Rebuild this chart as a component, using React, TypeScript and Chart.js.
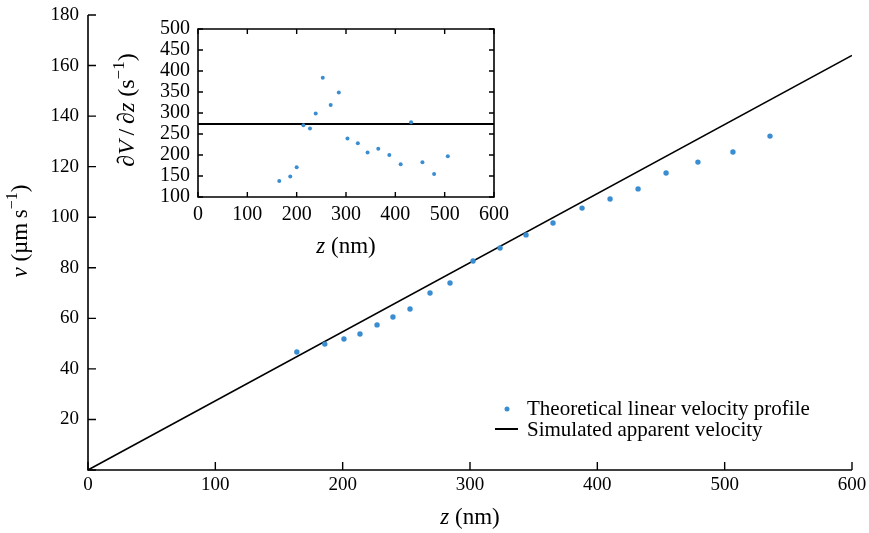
import { useEffect, useRef } from 'react';
import { Chart, registerables } from 'chart.js';
Chart.register(...registerables);

// Main chart data
const zData = [164, 186, 201, 213.6, 227, 239.5, 252.9, 268.6, 284.3, 302.4, 323.6, 344, 365.2, 388, 410, 432, 454, 479, 506.5, 535.6];
const vData = [46.7, 49.8, 51.8, 53.8, 57.4, 60.5, 63.7, 70, 74, 82.7, 87.8, 93, 97.7, 103.6, 107.2, 111.2, 117.5, 121.8, 125.8, 132.1];
const simZ = [0, 600];
const simV = [0, 164];

// Inset data
const dzData = [164.7, 187, 200, 213.6, 227, 238.6, 252.9, 269, 285.4, 303, 324, 343.7, 365.4, 387.8, 410.8, 431.9, 454.9, 478.6, 506.4];
const dvdzData = [138, 149, 171, 271, 263, 299, 384, 319, 349, 239, 228, 206, 215, 200, 178, 278, 183, 155, 197];
const insetLineZ = [0, 600];
const insetLineV = [274, 274];

const legendLabels = ['Theoretical linear velocity profile', 'Simulated apparent velocity'];

const BLUE = '#3a8dd0';
const FONT = '"Liberation Serif", "DejaVu Serif", serif';

type Part = { t: string; it?: boolean; sup?: boolean };

function drawRich(ctx: CanvasRenderingContext2D, parts: Part[], cx: number, cy: number, size: number, rot: boolean) {
  ctx.save();
  ctx.translate(cx, cy);
  if (rot) ctx.rotate(-Math.PI / 2);
  const fontOf = (p: Part) => `${p.it ? 'italic ' : ''}${p.sup ? Math.round(size * 0.7) : size}px ${FONT}`;
  let total = 0;
  const widths = parts.map((p) => {
    ctx.font = fontOf(p);
    const w = ctx.measureText(p.t).width;
    total += w;
    return w;
  });
  let x = -total / 2;
  ctx.textBaseline = 'middle';
  ctx.textAlign = 'left';
  ctx.fillStyle = '#000';
  parts.forEach((p, i) => {
    ctx.font = fontOf(p);
    ctx.fillText(p.t, x, p.sup ? -size * 0.35 : 0);
    x += widths[i];
  });
  ctx.restore();
}

function tickPlugin(len: number, box: boolean) {
  return {
    id: 'inTicks',
    afterDraw(chart: any) {
      const { ctx, chartArea: a, scales } = chart;
      const xs = scales.x;
      const ys = scales.y;
      ctx.save();
      ctx.strokeStyle = '#000';
      ctx.lineWidth = 1.4;
      ctx.beginPath();
      xs.ticks.forEach((t: any) => {
        const px = xs.getPixelForValue(t.value);
        ctx.moveTo(px, a.bottom);
        ctx.lineTo(px, a.bottom - len);
        if (box) {
          ctx.moveTo(px, a.top);
          ctx.lineTo(px, a.top + len);
        }
      });
      ys.ticks.forEach((t: any) => {
        const py = ys.getPixelForValue(t.value);
        ctx.moveTo(a.left, py);
        ctx.lineTo(a.left + len, py);
        if (box) {
          ctx.moveTo(a.right, py);
          ctx.lineTo(a.right - len, py);
        }
      });
      ctx.stroke();
      ctx.lineWidth = 1.6;
      ctx.beginPath();
      if (box) {
        ctx.rect(a.left, a.top, a.right - a.left, a.bottom - a.top);
      } else {
        ctx.moveTo(a.left, a.top);
        ctx.lineTo(a.left, a.bottom);
        ctx.lineTo(a.right, a.bottom);
      }
      ctx.stroke();
      ctx.restore();
    },
  };
}

const mainDecor = {
  id: 'mainDecor',
  afterDraw(chart: any) {
    const ctx = chart.ctx as CanvasRenderingContext2D;
    drawRich(ctx, [{ t: 'z', it: true }, { t: ' (nm)' }], 470, 518, 23, false);
    drawRich(ctx, [{ t: 'v', it: true }, { t: ' (µm\u2009s' }, { t: '−1', sup: true }, { t: ')' }], 21, 231, 23, true);
    // legend
    ctx.save();
    ctx.fillStyle = BLUE;
    ctx.beginPath();
    ctx.arc(507, 409, 2.5, 0, Math.PI * 2);
    ctx.fill();
    ctx.strokeStyle = '#000';
    ctx.lineWidth = 2;
    ctx.beginPath();
    ctx.moveTo(495, 429);
    ctx.lineTo(518, 429);
    ctx.stroke();
    ctx.fillStyle = '#000';
    ctx.font = `21px ${FONT}`;
    ctx.textBaseline = 'middle';
    ctx.textAlign = 'left';
    ctx.fillText(legendLabels[0], 527, 409);
    ctx.fillText(legendLabels[1], 527, 430);
    ctx.restore();
  },
};

const insetDecor = {
  id: 'insetDecor',
  afterDraw(chart: any) {
    const ctx = chart.ctx as CanvasRenderingContext2D;
    drawRich(ctx, [{ t: 'z', it: true }, { t: ' (nm)' }], 241, 232, 23, false);
    drawRich(
      ctx,
      [{ t: '∂' }, { t: 'V', it: true }, { t: '\u2009/\u2009∂' }, { t: 'z', it: true }, { t: ' (s' }, { t: '−1', sup: true }, { t: ')' }],
      23,
      95,
      24,
      true
    );
  },
};

const noPadX = (h: number) => (s: any) => {
  s.height = h;
  s.paddingLeft = 0;
  s.paddingRight = 0;
};
const noPadY = (w: number) => (s: any) => {
  s.width = w;
  s.paddingTop = 0;
  s.paddingBottom = 0;
};

export default function App() {
  const mainRef = useRef<HTMLCanvasElement>(null);
  const insetRef = useRef<HTMLCanvasElement>(null);

  useEffect(() => {
    Chart.defaults.font.family = FONT;
    Chart.defaults.color = '#000';

    const main = new Chart(mainRef.current as HTMLCanvasElement, {
      type: 'scatter',
      data: {
        datasets: [
          {
            label: legendLabels[0],
            data: zData.map((z, i) => ({ x: z, y: vData[i] })),
            backgroundColor: BLUE,
            borderWidth: 0,
            pointRadius: 2.7,
          },
          {
            label: legendLabels[1],
            data: simZ.map((z, i) => ({ x: z, y: simV[i] })),
            showLine: true,
            borderColor: '#000',
            borderWidth: 1.6,
            pointRadius: 0,
          } as any,
        ],
      },
      options: {
        animation: false,
        responsive: false,
        devicePixelRatio: 1,
        layout: { padding: { left: 0, top: 15, right: 17, bottom: 0 } },
        plugins: { legend: { display: false }, tooltip: { enabled: false } },
        scales: {
          x: {
            type: 'linear',
            min: 0,
            max: 600,
            grid: { display: false, drawTicks: false },
            border: { display: false },
            ticks: { stepSize: 100, font: { size: 19 }, padding: 4, color: '#000', maxRotation: 0 },
            afterFit: noPadX(63),
          },
          y: {
            type: 'linear',
            min: 0,
            max: 180,
            grid: { display: false, drawTicks: false },
            border: { display: false },
            ticks: {
              stepSize: 20,
              font: { size: 19 },
              padding: 9,
              color: '#000',
              callback: (v: any) => (v === 0 ? '' : String(v)),
            },
            afterFit: noPadY(88),
          },
        },
      },
      plugins: [tickPlugin(8, false), mainDecor],
    });

    const inset = new Chart(insetRef.current as HTMLCanvasElement, {
      type: 'scatter',
      data: {
        datasets: [
          {
            data: dzData.map((z, i) => ({ x: z, y: dvdzData[i] })),
            backgroundColor: BLUE,
            borderWidth: 0,
            pointRadius: 2,
          },
          {
            data: insetLineZ.map((z, i) => ({ x: z, y: insetLineV[i] })),
            showLine: true,
            borderColor: '#000',
            borderWidth: 2,
            pointRadius: 0,
          } as any,
        ],
      },
      options: {
        animation: false,
        responsive: false,
        devicePixelRatio: 1,
        layout: { padding: { left: 0, top: 14, right: 31, bottom: 0 } },
        plugins: { legend: { display: false }, tooltip: { enabled: false } },
        scales: {
          x: {
            type: 'linear',
            min: 0,
            max: 600,
            grid: { display: false, drawTicks: false },
            border: { display: false },
            ticks: { stepSize: 100, font: { size: 20 }, padding: 6, color: '#000', maxRotation: 0, autoSkip: false },
            afterFit: noPadX(68),
          },
          y: {
            type: 'linear',
            min: 100,
            max: 500,
            grid: { display: false, drawTicks: false },
            border: { display: false },
            ticks: { stepSize: 50, font: { size: 20 }, padding: 8, color: '#000', autoSkip: false },
            afterFit: noPadY(93),
          },
        },
      },
      plugins: [tickPlugin(5, true), insetDecor],
    });

    return () => {
      main.destroy();
      inset.destroy();
    };
  }, []);

  return (
    <div style={{ position: 'fixed', left: 0, top: 0, width: 869, height: 533, background: '#fff' }}>
      <canvas ref={mainRef} width={869} height={533} style={{ position: 'absolute', left: 0, top: 0 }} />
      <canvas ref={insetRef} width={420} height={250} style={{ position: 'absolute', left: 105, top: 15 }} />
    </div>
  );
}
